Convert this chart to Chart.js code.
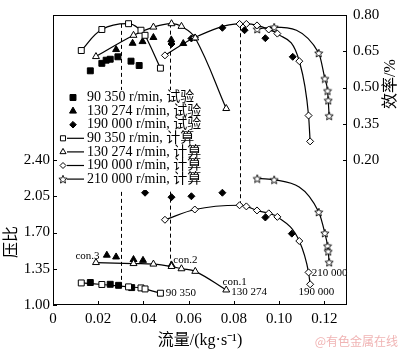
<!DOCTYPE html>
<html>
<head>
<meta charset="utf-8">
<script src="https://cdn.jsdelivr.net/npm/chart.js@4.4.1/dist/chart.umd.min.js"></script>
<style>
  html, body { margin: 0; padding: 0; background: #fff; }
  #wrap { width: 400px; height: 350px; }
</style>
</head>
<body>
<div id="wrap"><canvas id="myChart"></canvas></div>
<script>
// calculated curves: flow (kg/s), pressure ratio, efficiency
const flow90 = [0.0125, 0.0216, 0.0334, 0.0389, 0.0407, 0.0475];
const pr90 = [1.213, 1.198, 1.175, 1.165, 1.155, 1.114];
const eff90 = [0.653, 0.740, 0.764, 0.737, 0.716, 0.580];

const flow130 = [0.0190, 0.0356, 0.0444, 0.0524, 0.0568, 0.0629, 0.0766];
const pr130 = [1.410, 1.400, 1.395, 1.372, 1.350, 1.325, 1.145];
const eff130 = [0.628, 0.716, 0.750, 0.764, 0.753, 0.705, 0.413];

const flow190 = [0.0495, 0.0627, 0.0825, 0.0855, 0.0902, 0.0954, 0.0992, 0.1089, 0.1130, 0.1137];
const pr190 = [1.823, 1.922, 1.963, 1.952, 1.913, 1.885, 1.851, 1.618, 1.315, 1.200];
const eff190 = [0.633, 0.707, 0.763, 0.763, 0.757, 0.740, 0.723, 0.609, 0.384, 0.277];

const flow210 = [0.0903, 0.0978, 0.1175, 0.1202, 0.1214, 0.1217, 0.1221];
const pr210 = [2.221, 2.210, 1.898, 1.695, 1.571, 1.518, 1.413];
const eff210 = [0.742, 0.750, 0.643, 0.537, 0.487, 0.447, 0.383];

// test points
const flow90tPr = [0.0165, 0.0253, 0.0290, 0.0348];
const pr90t = [1.217, 1.200, 1.190, 1.168];
const flow90tEff = [0.0165, 0.0216, 0.0235, 0.0253, 0.0287, 0.0345, 0.0381];
const eff90t = [0.569, 0.600, 0.613, 0.617, 0.627, 0.609, 0.591];

const flow130tPr = [0.0238, 0.0279, 0.0356, 0.0398, 0.0524];
const pr130t = [1.481, 1.464, 1.439, 1.431, 1.387];
const flow130tEff = [0.0279, 0.0352, 0.0396, 0.0444, 0.0523, 0.0576];
const eff130t = [0.657, 0.683, 0.690, 0.707, 0.697, 0.682];

const flow190tPr = [0.0407, 0.0524, 0.0612, 0.0749, 0.0939, 0.1056];
const pr190t = [2.084, 2.041, 2.050, 2.084, 1.845, 1.689];
const flow190tEff = [0.0524, 0.0612, 0.0749, 0.0847, 0.0939, 0.1060];
const eff190t = [0.680, 0.703, 0.747, 0.737, 0.704, 0.627];

// dashed guide lines: flow, pressure ratio at bottom, efficiency at top
const guideFlow = [0.0301, 0.0517, 0.0826];
const guidePr = [1.175, 1.380, 1.963];
const guideEff = [0.768, 0.765, 0.764];

const notes = [
  {text: 'con.3', x: 0.0099, y: 1.471},
  {text: 'con.2', x: 0.0532, y: 1.434},
  {text: 'con.1', x: 0.0750, y: 1.219},
  {text: '130 274', x: 0.0788, y: 1.121},
  {text: '90 350', x: 0.0499, y: 1.114},
  {text: '190 000', x: 0.1085, y: 1.121},
  {text: '210 000', x: 0.1144, y: 1.308}
];

const pts = (xs, ys) => xs.map((x, i) => ({x: x, y: ys[i]}));

function makeStar(size) {
  const c = document.createElement('canvas');
  c.width = size; c.height = size;
  const g = c.getContext('2d');
  const cx = size / 2, cy = size / 2 + 0.5, R = size / 2 - 0.7, r = R * 0.45;
  g.beginPath();
  for (let i = 0; i < 10; i++) {
    const a = -Math.PI / 2 + i * Math.PI / 5;
    const rr = i % 2 ? r : R;
    g.lineTo(cx + rr * Math.cos(a), cy + rr * Math.sin(a));
  }
  g.closePath();
  g.fillStyle = '#fff'; g.fill();
  g.lineWidth = 0.9; g.strokeStyle = '#000'; g.stroke();
  return c;
}
const star = makeStar(10);

const serif = "'Liberation Serif', 'Noto Sans CJK SC', serif";
Chart.defaults.font.family = serif;
Chart.defaults.font.size = 15;
Chart.defaults.color = '#000';

function curve(xs, ys, axis, style, r, smooth) {
  const d = {
    data: pts(xs, ys), yAxisID: axis, showLine: true,
    borderColor: '#000', borderWidth: 1.2,
    pointStyle: style, pointRadius: r, pointBackgroundColor: '#fff',
    pointBorderColor: '#000', pointBorderWidth: 1
  };
  if (smooth) d.tension = 0.4; else d.cubicInterpolationMode = 'monotone';
  return d;
}
function test(xs, ys, axis, style, r) {
  return {
    data: pts(xs, ys), yAxisID: axis, showLine: false,
    pointStyle: style, pointRadius: r, pointBackgroundColor: '#000',
    pointBorderColor: '#000', pointBorderWidth: 1
  };
}

const legendItems = [
  {text: '90 350 r/min, 试验', style: 'rect', r: 4.2, fill: '#000', line: false},
  {text: '130 274 r/min, 试验', style: 'triangle', r: 4, fill: '#000', line: false},
  {text: '190 000 r/min, 试验', style: 'rectRot', r: 3.3, fill: '#000', line: false},
  {text: '90 350 r/min, 计算', style: 'rect', r: 3.6, fill: '#fff', line: true},
  {text: '130 274 r/min, 计算', style: 'triangle', r: 3.5, fill: '#fff', line: true},
  {text: '190 000 r/min, 计算', style: 'rectRot', r: 3, fill: '#fff', line: true},
  {text: '210 000 r/min, 计算', style: star, r: 4, fill: '#fff', line: true}
];

const decor = {
  id: 'decor',
  beforeDatasetsDraw(chart) {
    const {ctx, scales: {x, y, y1}} = chart;
    ctx.save();
    ctx.strokeStyle = '#000';
    ctx.lineWidth = 1;
    ctx.setLineDash([4, 3]);
    guideFlow.forEach((f, i) => {
      const px = Math.round(x.getPixelForValue(f)) + 0.5;
      ctx.beginPath();
      ctx.moveTo(px, y.getPixelForValue(guidePr[i]));
      ctx.lineTo(px, y1.getPixelForValue(guideEff[i]));
      ctx.stroke();
    });
    ctx.restore();
  },
  afterDatasetsDraw(chart) {
    const {ctx, chartArea: a, scales: {x, y}} = chart;
    ctx.save();
    // notes on curves
    ctx.fillStyle = '#000';
    ctx.font = '11px ' + serif;
    ctx.textBaseline = 'middle';
    ctx.textAlign = 'left';
    notes.forEach(n => ctx.fillText(n.text, x.getPixelForValue(n.x), y.getPixelForValue(n.y)));
    // legend inside plot
    ctx.fillStyle = '#fff';
    ctx.fillRect(a.left + 5, a.top + 75, 150, 100);
    ctx.font = '14px ' + serif;
    legendItems.forEach((it, i) => {
      const ly = a.top + 82.5 + i * 13.6;
      ctx.strokeStyle = '#000';
      ctx.lineWidth = 1;
      if (it.line) {
        ctx.beginPath();
        ctx.moveTo(a.left + 14, ly); ctx.lineTo(a.left + 31, ly);
        ctx.lineWidth = 1.2; ctx.stroke();
        ctx.lineWidth = 1;
      }
      ctx.fillStyle = it.fill;
      Chart.helpers.drawPoint(ctx, {pointStyle: it.style, radius: it.r, borderWidth: 1, rotation: 0},
        it.line ? a.left + 10 : a.left + 20, ly);
      ctx.fillStyle = '#000';
      ctx.fillText(it.text, a.left + 34, ly);
    });
    ctx.restore();
  },
  afterDraw(chart) {
    const {ctx, chartArea: a, scales} = chart;
    ctx.save();
    ctx.strokeStyle = '#000';
    ctx.lineWidth = 1;
    ctx.strokeRect(a.left + 0.5, a.top + 0.5, a.right - a.left - 1, a.bottom - a.top - 1);
    // inward ticks
    ctx.beginPath();
    scales.x.ticks.forEach((t, i) => {
      const px = Math.round(scales.x.getPixelForTick(i)) + 0.5;
      ctx.moveTo(px, a.bottom); ctx.lineTo(px, a.bottom - 4);
    });
    scales.y.ticks.forEach((t, i) => {
      const py = Math.round(scales.y.getPixelForTick(i)) + 0.5;
      ctx.moveTo(a.left, py); ctx.lineTo(a.left + 4, py);
    });
    scales.y1.ticks.forEach((t, i) => {
      const py = Math.round(scales.y1.getPixelForTick(i)) + 0.5;
      ctx.moveTo(a.right, py); ctx.lineTo(a.right - 4, py);
    });
    ctx.stroke();
    // axis titles
    ctx.fillStyle = '#000';
    ctx.font = '16px ' + serif;
    ctx.textAlign = 'center';
    ctx.textBaseline = 'middle';
    ctx.fillText('流量/(kg·s⁻¹)', (a.left + a.right) / 2, 341);
    ctx.save();
    ctx.translate(12, 242);
    ctx.rotate(-Math.PI / 2);
    ctx.fillText('压比', 0, 0);
    ctx.restore();
    ctx.save();
    ctx.translate(391, 84);
    ctx.rotate(-Math.PI / 2);
    ctx.fillText('效率/%', 0, 0);
    ctx.restore();
    // watermark
    ctx.fillStyle = '#f0b4b4';
    ctx.font = "12px 'Noto Sans CJK SC'";
    ctx.textAlign = 'right';
    ctx.fillText('@有色金属在线', 398, 341);
    ctx.restore();
  }
};

new Chart(document.getElementById('myChart'), {
  type: 'scatter',
  data: {
    datasets: [
      curve(flow90, pr90, 'y', 'rect', 4.2, true),
      curve(flow130, pr130, 'y', 'triangle', 4, true),
      curve(flow190, pr190, 'y', 'rectRot', 3.5, false),
      curve(flow210, pr210, 'y', star, 5, false),
      curve(flow90, eff90, 'y1', 'rect', 4.2, true),
      curve(flow130, eff130, 'y1', 'triangle', 4, true),
      curve(flow190, eff190, 'y1', 'rectRot', 3.5, false),
      curve(flow210, eff210, 'y1', star, 5, false),
      test(flow90tPr, pr90t, 'y', 'rect', 4.2),
      test(flow130tPr, pr130t, 'y', 'triangle', 4),
      test(flow190tPr, pr190t, 'y', 'rectRot', 3.5),
      test(flow90tEff, eff90t, 'y1', 'rect', 4.2),
      test(flow130tEff, eff130t, 'y1', 'triangle', 4),
      test(flow190tEff, eff190t, 'y1', 'rectRot', 3.5)
    ]
  },
  options: {
    responsive: true,
    maintainAspectRatio: false,
    animation: false,
    layout: {padding: {top: 5}},
    plugins: {legend: {display: false}, tooltip: {enabled: false}},
    scales: {
      x: {
        type: 'linear', min: 0, max: 0.13,
        grid: {display: false, drawTicks: false},
        border: {display: false},
        ticks: {stepSize: 0.02, includeBounds: false, padding: 5, callback: v => v === 0 ? '0' : v.toFixed(2)},
        afterBuildTicks: s => { s.ticks = s.ticks.filter(t => t.value < 0.1201); },
        afterFit: s => { s.height = 45; }
      },
      y: {
        type: 'linear', position: 'left', min: 1.0, max: 3.8,
        grid: {display: false, drawTicks: false},
        border: {display: false},
        ticks: {stepSize: 0.35, includeBounds: false, padding: 3, callback: v => v.toFixed(2)},
        afterBuildTicks: s => { s.ticks = s.ticks.filter(t => t.value < 2.41); },
        afterFit: s => { s.width = 53; }
      },
      y1: {
        type: 'linear', position: 'right', min: -0.4, max: 0.8,
        grid: {display: false, drawTicks: false},
        border: {display: false},
        ticks: {stepSize: 0.15, includeBounds: false, padding: 6, callback: v => v.toFixed(2)},
        afterBuildTicks: s => { s.ticks = s.ticks.filter(t => t.value > 0.199); },
        afterFit: s => { s.width = 53; }
      }
    }
  },
  plugins: [decor]
});
</script>
</body>
</html>
